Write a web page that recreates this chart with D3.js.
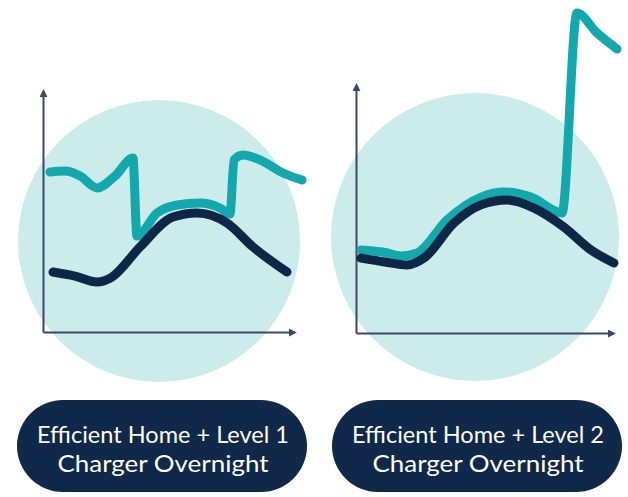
<!DOCTYPE html>
<html>
<head>
<meta charset="utf-8">
<script src="https://cdn.jsdelivr.net/npm/d3@7/dist/d3.min.js"></script>
<style>
  html, body { margin: 0; padding: 0; background: #ffffff; }
  svg { display: block; }
</style>
</head>
<body>
<svg id="chart" width="628" height="497"></svg>
<script>
// ---- data (x = hour of day, y = relative energy use) ----
const panelTitles = [
  ["Efficient Home + Level 1", "Charger Overnight"],
  ["Efficient Home + Level 2", "Charger Overnight"]
];

const l1HomeHours = [0.97, 3.11, 5.25, 6.70, 9.43, 12.63, 14.96, 17.88, 20.40, 23.71];
const l1HomeLoad  = [2.53, 2.36, 2.11, 2.32, 3.59, 4.85, 5.02, 4.60, 3.59, 2.53];

const l1TotalHours = [0.68, 2.14, 3.60, 5.25, 7.00, 8.74, 9.13, 11.08, 13.02, 15.26, 17.20, 18.17, 18.56, 19.43, 21.08, 23.32, 25.17];
const l1TotalLoad  = [6.75, 6.79, 6.58, 6.08, 6.58, 7.34, 4.05, 5.02, 5.36, 5.44, 5.23, 4.98, 7.26, 7.47, 7.26, 6.71, 6.41];

const l2HomeHours = [0.47, 2.75, 4.84, 6.45, 9.30, 11.86, 14.32, 16.89, 19.73, 22.29, 24.47];
const l2HomeLoad  = [3.07, 2.91, 2.79, 3.07, 4.51, 5.25, 5.45, 5.12, 4.34, 3.40, 2.87];

const l2TotalHours = [0.47, 2.75, 4.27, 5.79, 8.63, 11.86, 14.04, 16.60, 19.54, 20.96, 22.86, 24.76];
const l2TotalLoad  = [3.40, 3.30, 3.16, 3.28, 4.63, 5.57, 5.78, 5.57, 4.92, 13.11, 12.30, 11.64];

const xDomain = [0, 24];
const yDomain = [0, 10];

// ---- styling / layout ----
const colors = { circle: "#ccecec", teal: "#13a8ab", navy: "#0f2747", axis: "#3c4668", pill: "#10284a" };
const titleWidths = [252, 211];

const panels = [
  { xRange: [43, 290], yRange: [332, 95], circle: { cx: 159, cy: 241, r: 141 },
    pill: { x: 17, y: 400, w: 290, h: 92 },
    home: l1HomeHours.map((h, i) => ({ h, v: l1HomeLoad[i] })),
    total: l1TotalHours.map((h, i) => ({ h, v: l1TotalLoad[i] })),
    title: panelTitles[0] },
  { xRange: [356, 609], yRange: [333, 89], circle: { cx: 475, cy: 237, r: 144 },
    pill: { x: 332, y: 400, w: 290, h: 92 },
    home: l2HomeHours.map((h, i) => ({ h, v: l2HomeLoad[i] })),
    total: l2TotalHours.map((h, i) => ({ h, v: l2TotalLoad[i] })),
    title: panelTitles[1] }
];

const svg = d3.select("#chart");

svg.append("defs").append("marker")
  .attr("id", "arrow")
  .attr("viewBox", "0 0 10 10")
  .attr("refX", 2).attr("refY", 5)
  .attr("markerWidth", 8).attr("markerHeight", 8)
  .attr("markerUnits", "userSpaceOnUse")
  .attr("orient", "auto")
  .append("path")
  .attr("d", "M0,0 L10,5 L0,10 Z")
  .attr("fill", colors.axis);

panels.forEach(p => {
  const g = svg.append("g");
  const x = d3.scaleLinear().domain(xDomain).range(p.xRange);
  const y = d3.scaleLinear().domain(yDomain).range(p.yRange);

  g.append("circle")
    .attr("cx", p.circle.cx).attr("cy", p.circle.cy).attr("r", p.circle.r)
    .attr("fill", colors.circle);

  const yAxis = g.append("g")
    .attr("transform", `translate(${p.xRange[0]},0)`)
    .call(d3.axisLeft(y).tickValues([]).tickSizeOuter(0));
  const xAxis = g.append("g")
    .attr("transform", `translate(0,${p.yRange[0]})`)
    .call(d3.axisBottom(x).tickValues([]).tickSizeOuter(0));
  [yAxis, xAxis].forEach(a => a.select(".domain")
    .attr("stroke", colors.axis).attr("stroke-width", 2)
    .attr("marker-end", "url(#arrow)"));

  const line = d3.line()
    .x(d => x(d.h)).y(d => y(d.v))
    .curve(d3.curveMonotoneX);

  g.append("path").datum(p.total)
    .attr("d", line)
    .attr("fill", "none").attr("stroke", colors.teal)
    .attr("stroke-width", 9).attr("stroke-linecap", "round").attr("stroke-linejoin", "round");

  g.append("path").datum(p.home)
    .attr("d", line)
    .attr("fill", "none").attr("stroke", colors.navy)
    .attr("stroke-width", 9).attr("stroke-linecap", "round").attr("stroke-linejoin", "round");

  g.append("rect")
    .attr("x", p.pill.x).attr("y", p.pill.y)
    .attr("width", p.pill.w).attr("height", p.pill.h)
    .attr("rx", p.pill.h / 2).attr("ry", p.pill.h / 2)
    .attr("fill", colors.pill);

  const cx = p.pill.x + p.pill.w / 2 + 1;
  g.selectAll("text.title").data(p.title).enter().append("text")
    .attr("class", "title")
    .attr("x", cx)
    .attr("y", (d, i) => 443 + i * 29)
    .attr("text-anchor", "middle")
    .attr("fill", "#ffffff")
    .attr("font-family", "Lato, 'Open Sans', sans-serif")
    .attr("font-size", 24)
    .attr("textLength", (d, i) => titleWidths[i])
    .attr("lengthAdjust", "spacingAndGlyphs")
    .text(d => d);
});
</script>
</body>
</html>
